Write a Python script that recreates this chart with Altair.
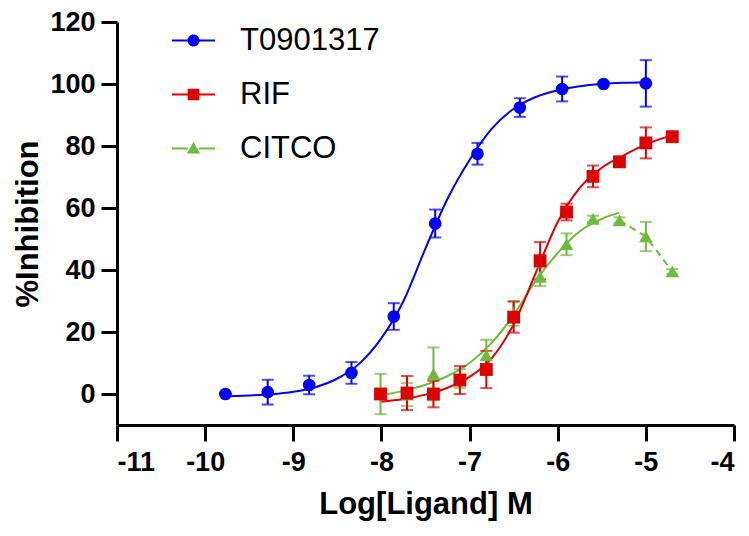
import altair as alt
import pandas as pd

# ---------------- data ----------------
series_names = ["T0901317", "RIF", "CITCO"]
series_colors = ["#0000FF", "#DC0000", "#6CBB3C"]
series_shapes = ["circle", "square", "triangle-up"]
series_sizes = [160, 165, 180]

# measured points (log M, % inhibition, SEM)
t_x = [-9.77, -9.29, -8.82, -8.34, -7.86, -7.39, -6.91, -6.43, -5.95, -5.48, -5.0]
t_y = [0, 0.6, 2.9, 6.8, 25, 55, 77.5, 92.4, 98.4, 100, 100.2]
t_e = [0, 4, 3, 3.5, 4.3, 4.5, 3.5, 3, 4, 0.5, 7.5]

r_x = [-8.01, -7.71, -7.41, -7.11, -6.81, -6.5, -6.2, -5.9, -5.6, -5.3, -5.0, -4.7]
r_y = [0, 0.3, 0, 4.5, 7.9, 24.8, 43, 58.7, 70.2, 74.9, 81, 83]
r_e = [0, 5.5, 4.3, 4.5, 6, 5, 6, 2.7, 3.5, 1.5, 5, 0.8]

c_x = [-8.01, -7.71, -7.41, -7.11, -6.81, -6.5, -6.2, -5.9, -5.6, -5.3, -5.0, -4.7]
c_y = [0, -0.2, 6.5, 5, 12.5, 26, 37.8, 48.3, 56.5, 56, 50.8, 39.5]
c_e = [6.5, 3.7, 8.5, 3, 5, 4, 3, 3.5, 1, 1, 4.7, 0.8]

# fitted curves
t_fit_x = [-9.77, -9.5, -9.25, -9.0, -8.75, -8.5, -8.25, -8.0, -7.75, -7.5, -7.25,
           -7.0, -6.75, -6.5, -6.25, -6.0, -5.75, -5.5, -5.25, -5.0]
t_fit_y = [-0.8, -0.5, -0.1, 0.7, 2.2, 5.0, 9.8, 18, 30, 47, 63,
           75.5, 85.5, 92, 95.8, 98, 99.3, 100, 100.4, 100.6]

r_fit_x = [-8.01, -7.75, -7.5, -7.25, -7.0, -6.75, -6.5, -6.25, -6.0, -5.75, -5.5,
           -5.25, -5.0, -4.7]
r_fit_y = [-2.5, -1.6, -0.2, 2.0, 5.5, 11.5, 22.5, 39, 55.5, 66.5, 73,
           77, 80.5, 83.5]

c_fit_x = [-8.01, -7.75, -7.5, -7.25, -7.0, -6.75, -6.5, -6.25, -6.0, -5.75, -5.5, -5.3]
c_fit_y = [-0.5, 1.0, 3.0, 5.8, 10, 16.5, 25.5, 36.5, 45.5, 52.5, 56.5, 58.5]

# dashed connector of the last CITCO points
c_dash_x = [-5.3, -5.0, -4.7]
c_dash_y = [56, 50.8, 39.5]

x_ticks = [-11, -10, -9, -8, -7, -6, -5, -4]
y_ticks = [0, 20, 40, 60, 80, 100, 120]

# ---------------- tables ----------------
def pts_table(name, xs, ys, es):
    i = series_names.index(name)
    return pd.DataFrame({
        "series": name, "x": xs, "y": ys,
        "lo": [y - e for y, e in zip(ys, es)],
        "hi": [y + e for y, e in zip(ys, es)],
        "col": series_colors[i], "shape": series_shapes[i], "size": series_sizes[i],
    })

def curve_table(name, xs, ys):
    i = series_names.index(name)
    return pd.DataFrame({"series": name, "x": xs, "y": ys, "col": series_colors[i]})

points = pd.concat([
    pts_table("CITCO", c_x, c_y, c_e),
    pts_table("RIF", r_x, r_y, r_e),
    pts_table("T0901317", t_x, t_y, t_e),
], ignore_index=True)

curves = pd.concat([
    curve_table("CITCO", c_fit_x, c_fit_y),
    curve_table("RIF", r_fit_x, r_fit_y),
    curve_table("T0901317", t_fit_x, t_fit_y),
], ignore_index=True)

dashed = curve_table("CITCO", c_dash_x, c_dash_y)

legend_df = pd.DataFrame({"series": series_names})

# ---------------- encodings ----------------
FONT = "Liberation Sans, Arial, sans-serif"

def X():
    return alt.X("x:Q", scale=alt.Scale(domain=[-11, -4], nice=False, zero=False),
                 axis=alt.Axis(values=x_ticks, title="Log[Ligand] M",
                               labelExpr="'' + datum.value", labelPadding=8,
                               titlePadding=14))

def Y(field="y"):
    return alt.Y(f"{field}:Q", scale=alt.Scale(domain=[-10, 120], nice=False, zero=False),
                 axis=alt.Axis(values=y_ticks, title="%Inhibition", labelPadding=6,
                               titlePadding=5))

col_enc = alt.Color("col:N", scale=None)

curve_layer = alt.Chart(curves).mark_line(strokeWidth=2, interpolate="monotone").encode(
    x=X(), y=Y(), color=col_enc, detail="series:N")

dash_layer = alt.Chart(dashed).mark_line(strokeWidth=2, strokeDash=[7, 5]).encode(
    x=X(), y=Y(), color=col_enc)

err_layer = alt.Chart(points).mark_errorbar(ticks=True, size=12, thickness=2).encode(
    x=X(), y=Y("lo"), y2="hi:Q", color=col_enc)

pt_layer = alt.Chart(points).mark_point(filled=True, opacity=1).encode(
    x=X(), y=Y(), color=col_enc,
    shape=alt.Shape("shape:N", scale=None),
    size=alt.Size("size:Q", scale=None))

# legend symbols: line + marker (custom paths in the unit box)
line_l = "M-1,-0.05H-0.26V0.05H-1Z"
line_r = "M0.26,-0.05H1V0.05H0.26Z"
leg_paths = [
    line_l + line_r + "M-0.28,0A0.28,0.28 0 1,1 0.28,0A0.28,0.28 0 1,1 -0.28,0Z",
    line_l + line_r + "M-0.27,-0.27H0.27V0.27H-0.27Z",
    line_l + line_r + "M0,-0.3L0.31,0.23L-0.31,0.23Z",
]
leg = alt.Legend(title=None, orient="none", legendX=55, legendY=-3,
                 labelFont=FONT, labelFontSize=31, labelFontWeight="normal",
                 labelColor="black", labelOffset=25, rowPadding=17,
                 symbolSize=1849, symbolStrokeWidth=0, padding=0, labelLimit=0)

legend_layer = alt.Chart(legend_df).mark_point(filled=True, opacity=1).encode(
    x=X(), y=Y(),
    color=alt.Color("series:N", scale=alt.Scale(domain=series_names, range=series_colors),
                    legend=leg),
    shape=alt.Shape("series:N", scale=alt.Scale(domain=series_names, range=leg_paths),
                    legend=leg),
).transform_filter("false")

chart = alt.layer(curve_layer, dash_layer, err_layer, pt_layer, legend_layer).resolve_scale(
    color="independent", shape="independent"
).properties(
    width=617, height=403,
    autosize="none",
    padding={"left": 109, "top": 14, "right": 5, "bottom": 103},
).configure_axis(
    grid=False,
    domainWidth=3, domainColor="black",
    tickWidth=3, tickColor="black", tickSize=16,
    labelFont=FONT, labelFontSize=27, labelFontWeight="bold", labelColor="black",
    titleFont=FONT, titleFontSize=31, titleFontWeight="bold", titleColor="black",
).configure_view(stroke=None)

chart.save("out.html", embed_options={"renderer": "svg", "actions": False})
